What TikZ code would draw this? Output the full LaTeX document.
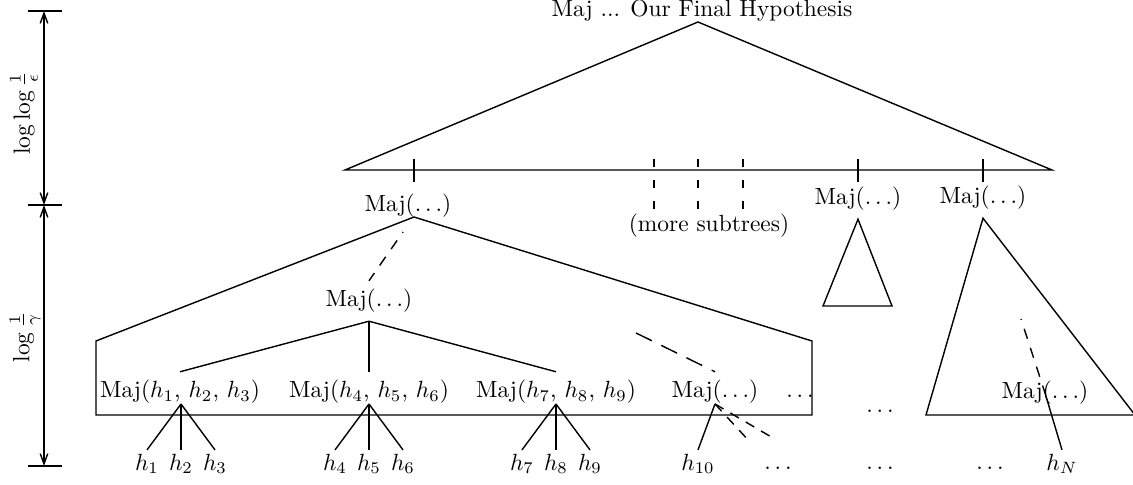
\documentclass[tikz,border=0pt]{standalone}
\usepackage{amsmath,amssymb}
\usepackage{tikz}
\usetikzlibrary{arrows.meta,positioning,calc}

\begin{document}
\begin{tikzpicture}[x=0.427pt,y=-0.427pt,semithick,
  dimarrow/.style={{Straight Barb[length=4.4pt,width=3.2pt]}-{Straight Barb[length=4.4pt,width=3.2pt]}},
  hlab/.style={inner sep=1.5pt},
  dots/.style={anchor=base,inner sep=0pt},
  tickdash/.style={dash pattern=on 3.4pt off 5.6pt},
  dotdash/.style={dash pattern=on 4.5pt off 4pt,dash phase=4.1pt},
  longdash/.style={dash pattern=on 7.5pt off 4.5pt},
  fandash/.style={dash pattern=on 4.2pt off 3.4pt}]
  \useasboundingbox (0,0) rectangle (1133,485);
  \foreach \y/\nm in {11/d0,205/d1,466/d2}{
    \coordinate (\nm) at (44,\y);
    \draw (28,\y) -- (62,\y);
  }
  \draw[dimarrow] (d0) -- (d1);
  \draw[dimarrow] (d1) -- (d2);
  \node[rotate=90] (heps) at (24,113) {$\log\log\frac{1}{\epsilon}$};
  \node[rotate=90] (hgam) at (25,337) {$\log\frac{1}{\gamma}$};

  \node (final) at (702,11) {Maj ... Our Final Hypothesis};
  \coordinate (top) at (698,22);
  \coordinate (bl) at (345,170);
  \coordinate (br) at (1052,170);
  \draw (bl) -- (top) -- (br) -- cycle;
  \foreach \x in {414,858,983}
    \draw (\x,159) -- (\x,182);
  \foreach \x in {654,698,743}
    \draw[tickdash] (\x,159) -- (\x,210);

  \node (majA) at (408,206) {Maj($\ldots$)};
  \node (more) at (709,226) {(more subtrees)};
  \node (majB) at (858,199) {Maj($\ldots$)};
  \node (majC) at (983,198) {Maj($\ldots$)};

  \draw (majB.south) -- (823,306) -- (892,306) -- cycle;
  \draw (majC.south) -- (926,415) -- (1135,415) -- cycle;

  \coordinate (apA) at (414,217);
  \draw (96,415) -- (96,341) -- (apA) -- (812,341) -- (812,415) -- cycle;

  \node (majD) at (369,301) {Maj($\ldots$)};
  \coordinate (tA) at (403,232);
  \draw[dotdash] (tA) -- (majD.north);

  \node (m1) at (180,392) {Maj($h_1$, $h_2$, $h_3$)};
  \node (m2) at (369,392) {Maj($h_4$, $h_5$, $h_6$)};
  \node (m3) at (556,392) {Maj($h_7$, $h_8$, $h_9$)};
  \node (m4) at (715,392) {Maj($\ldots$)};
  \node[dots] (dA) at (800,398) {$\ldots$};
  \foreach \m in {m1,m2,m3}
    \draw (majD.south) -- (\m.north);

  \coordinate (tB) at (636,333);
  \draw[longdash] (tB) -- (m4.north);

  \foreach \i/\x in {1/147,2/181,3/215,4/335,5/369,6/403,7/522,8/556,9/590,10/698}
    \node[hlab] (h\i) at (\x,464) {$h_{\i}$};
  \node[hlab] (hN) at (1062,464) {$h_N$};

  \foreach \j/\x in {1/181,2/369,3/556,4/715}
    \coordinate (j\j) at (\x,404);
  \foreach \j/\i in {1/1,1/2,1/3,2/4,2/5,2/6,3/7,3/8,3/9,4/10}
    \draw (j\j) -- (h\i.north);
  \coordinate (fA) at (773,438);
  \coordinate (fB) at (750,442);
  \draw[fandash] (j4) -- (fA);
  \draw[fandash] (j4) -- (fB);

  \node[dots] (dB) at (880,413) {$\ldots$};
  \foreach \x/\nm in {778/eA,880/eB,990/eC}
    \node[dots] (\nm) at (\x,470) {$\ldots$};

  \node (majN) at (1045,393) {Maj($\ldots$)};
  \coordinate (tN) at (1021,319);
  \draw[dotdash] (tN) -- (majN.center);
  \draw (majN.center) -- (hN.north);
\end{tikzpicture}
\end{document}
